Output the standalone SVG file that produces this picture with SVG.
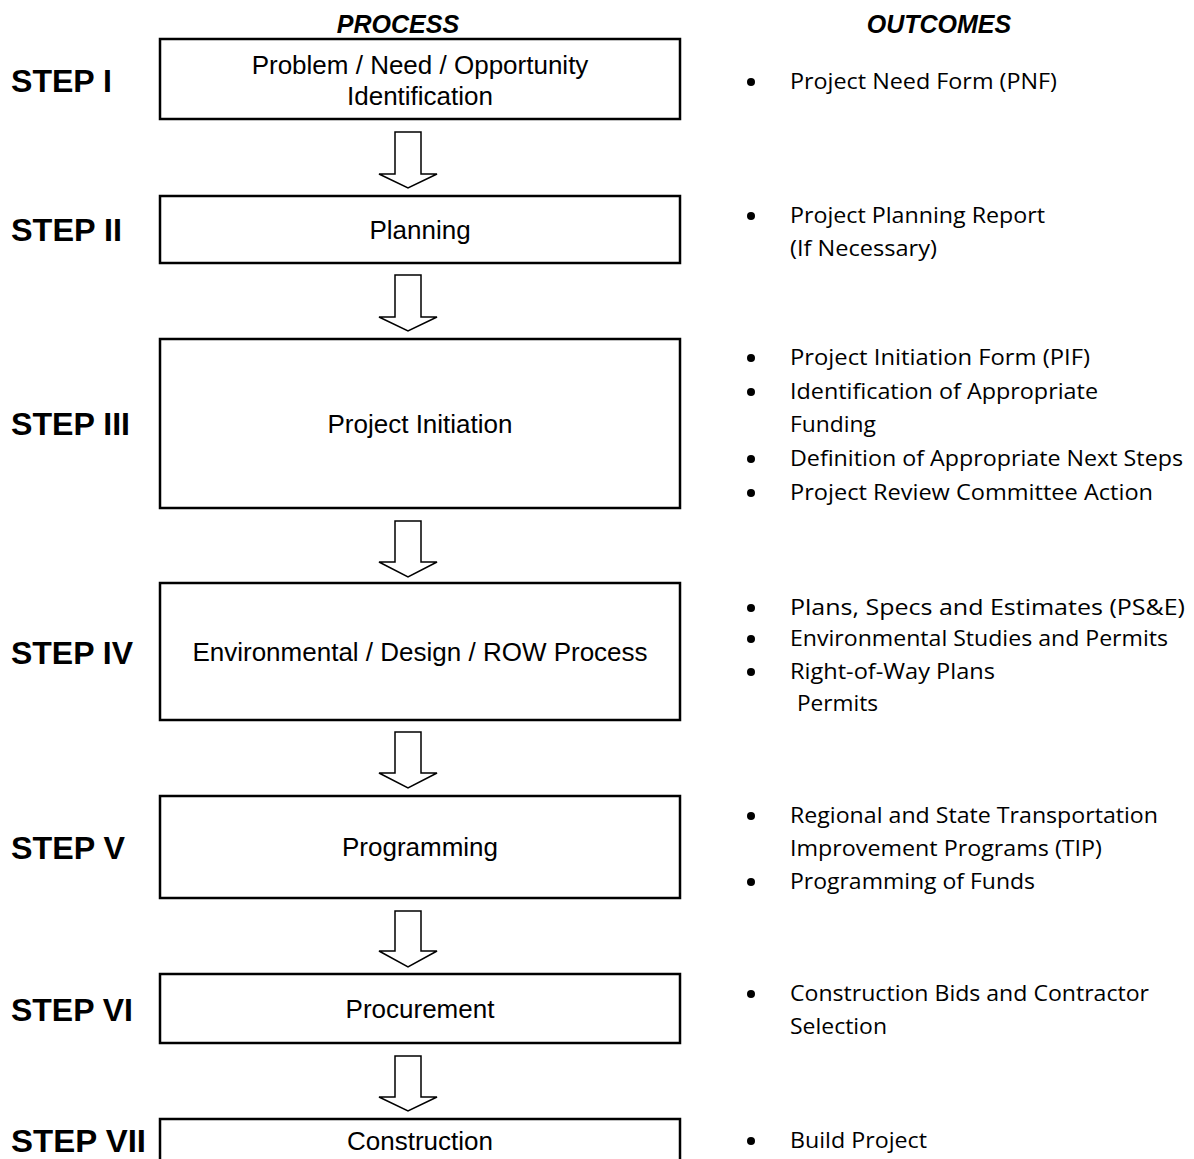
<svg xmlns="http://www.w3.org/2000/svg" width="1194" height="1159" viewBox="0 0 1194 1159">
<style>
.box{fill:#fff;stroke:#000;stroke-width:2.5}
.arr{fill:#fff;stroke:#000;stroke-width:1.5;stroke-linejoin:miter}
.step{font-family:"Liberation Sans",Arial,sans-serif;font-weight:bold;font-size:32px;fill:#000}
.lbl{font-family:"Liberation Sans",Arial,sans-serif;font-size:26px;fill:#000;text-anchor:middle}
.hdr{font-family:"Liberation Sans",Arial,sans-serif;font-size:25px;font-weight:bold;font-style:italic;fill:#000;text-anchor:middle}
.out{font-family:"Open Sans","Noto Sans",sans-serif;font-size:21.5px;fill:#000}
.bul{fill:#000}
</style>
<rect width="1194" height="1159" fill="#fff"/>
<g id="headers">
<text class="hdr" x="398" y="33">PROCESS</text>
<text class="hdr" x="939" y="33">OUTCOMES</text>
</g>
<g id="step-labels">
<text class="step" x="11" y="92" textLength="101" lengthAdjust="spacingAndGlyphs">STEP I</text>
<text class="step" x="11" y="241" textLength="111" lengthAdjust="spacingAndGlyphs">STEP II</text>
<text class="step" x="11" y="435" textLength="119" lengthAdjust="spacingAndGlyphs">STEP III</text>
<text class="step" x="11" y="664" textLength="122" lengthAdjust="spacingAndGlyphs">STEP IV</text>
<text class="step" x="11" y="859" textLength="114" lengthAdjust="spacingAndGlyphs">STEP V</text>
<text class="step" x="11" y="1021" textLength="122" lengthAdjust="spacingAndGlyphs">STEP VI</text>
<text class="step" x="11" y="1152" textLength="135" lengthAdjust="spacingAndGlyphs">STEP VII</text>
</g>
<g id="connectors">
<path class="arr" d="M395,132 V174 H379 L408,188 L437,174 H421 V132 Z"/>
<path class="arr" d="M395,275 V317 H379 L408,331 L437,317 H421 V275 Z"/>
<path class="arr" d="M395,521 V562 H379 L408,577 L437,562 H421 V521 Z"/>
<path class="arr" d="M395,732 V773 H379 L408,788 L437,773 H421 V732 Z"/>
<path class="arr" d="M395,911 V951 H379 L408,967 L437,951 H421 V911 Z"/>
<path class="arr" d="M395,1056 V1097 H379 L408,1111 L437,1097 H421 V1056 Z"/>
</g>
<g id="step1">
<rect class="box" x="160" y="39" width="520" height="80"/>
<text class="lbl" x="420" y="74">Problem / Need / Opportunity</text>
<text class="lbl" x="420" y="105">Identification</text>
</g>
<g id="step2">
<rect class="box" x="160" y="196" width="520" height="67"/>
<text class="lbl" x="420" y="239">Planning</text>
</g>
<g id="step3">
<rect class="box" x="160" y="339" width="520" height="169"/>
<text class="lbl" x="420" y="433">Project Initiation</text>
</g>
<g id="step4">
<rect class="box" x="160" y="583" width="520" height="137"/>
<text class="lbl" x="420" y="661">Environmental / Design / ROW Process</text>
</g>
<g id="step5">
<rect class="box" x="160" y="796" width="520" height="102"/>
<text class="lbl" x="420" y="856">Programming</text>
</g>
<g id="step6">
<rect class="box" x="160" y="974" width="520" height="69"/>
<text class="lbl" x="420" y="1018">Procurement</text>
</g>
<g id="step7">
<rect class="box" x="160" y="1119" width="520" height="70"/>
<text class="lbl" x="420" y="1150">Construction</text>
</g>
<g id="outcomes">
<circle class="bul" cx="751" cy="82" r="4"/>
<text class="out" x="790" y="89" textLength="267" lengthAdjust="spacingAndGlyphs">Project Need Form (PNF)</text>
<circle class="bul" cx="751" cy="216" r="4"/>
<text class="out" x="790" y="223" textLength="255" lengthAdjust="spacingAndGlyphs">Project Planning Report</text>
<text class="out" x="790" y="256" textLength="147" lengthAdjust="spacingAndGlyphs">(If Necessary)</text>
<circle class="bul" cx="751" cy="358" r="4"/>
<text class="out" x="790" y="365" textLength="300" lengthAdjust="spacingAndGlyphs">Project Initiation Form (PIF)</text>
<circle class="bul" cx="751" cy="392" r="4"/>
<text class="out" x="790" y="399" textLength="308" lengthAdjust="spacingAndGlyphs">Identification of Appropriate</text>
<text class="out" x="790" y="432" textLength="86" lengthAdjust="spacingAndGlyphs">Funding</text>
<circle class="bul" cx="751" cy="459" r="4"/>
<text class="out" x="790" y="466" textLength="393" lengthAdjust="spacingAndGlyphs">Definition of Appropriate Next Steps</text>
<circle class="bul" cx="751" cy="493" r="4"/>
<text class="out" x="790" y="500" textLength="363" lengthAdjust="spacingAndGlyphs">Project Review Committee Action</text>
<circle class="bul" cx="751" cy="608" r="4"/>
<text class="out" x="790" y="615" textLength="395" lengthAdjust="spacingAndGlyphs">Plans, Specs and Estimates (PS&amp;E)</text>
<circle class="bul" cx="751" cy="639" r="4"/>
<text class="out" x="790" y="646" textLength="378" lengthAdjust="spacingAndGlyphs">Environmental Studies and Permits</text>
<circle class="bul" cx="751" cy="672" r="4"/>
<text class="out" x="790" y="679" textLength="205" lengthAdjust="spacingAndGlyphs">Right-of-Way Plans</text>
<text class="out" x="797" y="711" textLength="81" lengthAdjust="spacingAndGlyphs">Permits</text>
<circle class="bul" cx="751" cy="816" r="4"/>
<text class="out" x="790" y="823" textLength="368" lengthAdjust="spacingAndGlyphs">Regional and State Transportation</text>
<text class="out" x="790" y="856" textLength="312" lengthAdjust="spacingAndGlyphs">Improvement Programs (TIP)</text>
<circle class="bul" cx="751" cy="882" r="4"/>
<text class="out" x="790" y="889" textLength="245" lengthAdjust="spacingAndGlyphs">Programming of Funds</text>
<circle class="bul" cx="751" cy="994" r="4"/>
<text class="out" x="790" y="1001" textLength="359" lengthAdjust="spacingAndGlyphs">Construction Bids and Contractor</text>
<text class="out" x="790" y="1034" textLength="97" lengthAdjust="spacingAndGlyphs">Selection</text>
<circle class="bul" cx="751" cy="1141" r="4"/>
<text class="out" x="790" y="1148" textLength="137" lengthAdjust="spacingAndGlyphs">Build Project</text>
</g>
</svg>
